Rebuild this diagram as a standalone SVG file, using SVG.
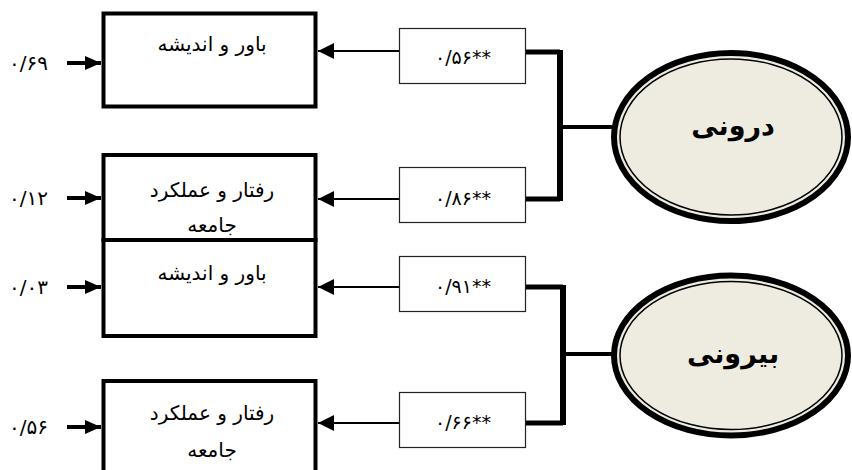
<svg xmlns="http://www.w3.org/2000/svg" width="852" height="470" viewBox="0 0 852 470">
<style>
.box{fill:#fff;stroke:#000;stroke-width:4}
.coef{fill:#fff;stroke:#222;stroke-width:1.2}
.lbl{font-family:"DejaVu Sans",sans-serif;font-size:20px;fill:#000;text-anchor:middle}
.num{font-family:"DejaVu Sans",sans-serif;font-size:20px;fill:#000;text-anchor:end}
.cn{font-family:"DejaVu Sans",sans-serif;font-size:19px;fill:#000;text-anchor:middle}
.big{font-family:"DejaVu Sans",sans-serif;font-size:27px;font-weight:bold;fill:#000;text-anchor:middle}
.ell{fill:#EEECE1;stroke:#000;stroke-width:6}
.ellin{fill:none;stroke:#000;stroke-width:1.5}
.thin{stroke:#000;stroke-width:2.2;fill:none}
.thick{stroke:#000;stroke-width:4;fill:none}
.br{stroke:#000;stroke-width:5;fill:none}
.brv{stroke:#000;stroke-width:6;fill:none}
</style>
<defs>
<marker id="ah" markerUnits="userSpaceOnUse" markerWidth="16" markerHeight="16" viewBox="0 0 16 16" refX="16" refY="8" orient="auto">
<path d="M0,0 L16,8 L0,16 z" fill="#000"/>
</marker>
<marker id="ah2" markerUnits="userSpaceOnUse" markerWidth="16" markerHeight="14" viewBox="0 0 16 14" refX="16" refY="7" orient="auto">
<path d="M0,0 L16,7 L0,14 z" fill="#000"/>
</marker>
</defs>
<g id="connectors">
<line class="thick" x1="67" y1="63" x2="101" y2="63" marker-end="url(#ah2)"/>
<line class="thick" x1="67" y1="198" x2="101" y2="198" marker-end="url(#ah2)"/>
<line class="thick" x1="67" y1="287" x2="101" y2="287" marker-end="url(#ah2)"/>
<line class="thick" x1="67" y1="427" x2="101" y2="427" marker-end="url(#ah2)"/>
<line class="thin" x1="399" y1="51" x2="318" y2="51" marker-end="url(#ah)"/>
<line class="thin" x1="399" y1="199" x2="318" y2="199" marker-end="url(#ah)"/>
<line class="thin" x1="399" y1="287" x2="318" y2="287" marker-end="url(#ah)"/>
<line class="thin" x1="399" y1="423" x2="318" y2="423" marker-end="url(#ah)"/>
<path class="br" d="M524,52 H560 M524,199 H560"/>
<path class="brv" d="M560,50 V201"/>
<line class="thick" x1="560" y1="127" x2="612" y2="127"/>
<path class="br" d="M526,287 H563 M526,423 H563"/>
<path class="brv" d="M563,285 V425"/>
<line class="thick" x1="563" y1="354" x2="612" y2="354"/>
</g>
<g id="n-err1"><text class="num" x="48" y="70">۰/۶۹</text></g>
<g id="n-err2"><text class="num" x="48" y="205">۰/۱۲</text></g>
<g id="n-err3"><text class="num" x="48" y="294">۰/۰۳</text></g>
<g id="n-err4"><text class="num" x="48" y="434">۰/۵۶</text></g>
<g id="n-box1"><rect class="box" x="103.5" y="13.5" width="212" height="93"/><text class="lbl" x="212" y="51">باور و اندیشه</text></g>
<g id="n-box2"><rect class="box" x="103.5" y="155" width="212" height="85"/><text class="lbl" x="212" y="197">رفتار و عملکرد</text><text class="lbl" x="212" y="232">جامعه</text></g>
<g id="n-box3"><rect class="box" x="103.5" y="240" width="212" height="96"/><text class="lbl" x="212" y="280">باور و اندیشه</text></g>
<g id="n-box4"><rect class="box" x="103.5" y="381" width="212" height="95"/><text class="lbl" x="212" y="420">رفتار و عملکرد</text><text class="lbl" x="212" y="457">جامعه</text></g>
<g id="n-c1"><rect class="coef" x="399.5" y="28.5" width="126" height="55"/><text class="cn" x="463" y="64">۰/۵۶**</text></g>
<g id="n-c2"><rect class="coef" x="399.5" y="167.5" width="126" height="55"/><text class="cn" x="463" y="205">۰/۸۶**</text></g>
<g id="n-c3"><rect class="coef" x="399.5" y="256.5" width="126" height="55"/><text class="cn" x="463" y="293">۰/۹۱**</text></g>
<g id="n-c4"><rect class="coef" x="399.5" y="392.5" width="126" height="55"/><text class="cn" x="463" y="429">۰/۶۶**</text></g>
<g id="n-inner"><ellipse class="ell" cx="731" cy="137" rx="117" ry="84"/><ellipse class="ellin" cx="731" cy="137" rx="111" ry="78"/><text class="big" x="733" y="135">درونی</text></g>
<g id="n-outer"><ellipse class="ell" cx="731" cy="355.5" rx="117" ry="80"/><ellipse class="ellin" cx="731" cy="355.5" rx="111" ry="74"/><text class="big" x="733" y="363">بیرونی</text></g>
</svg>
